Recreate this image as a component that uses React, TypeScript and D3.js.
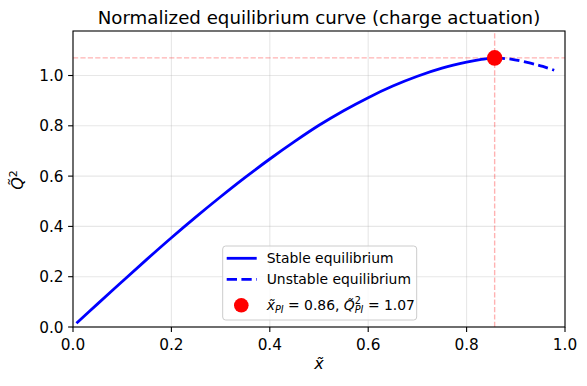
import React from 'react';
import * as d3 from 'd3';

// values
const stableX = [0.007, 0.05, 0.1, 0.15, 0.2, 0.25, 0.3, 0.35, 0.4, 0.45, 0.5, 0.55, 0.6, 0.65, 0.7, 0.75, 0.8, 0.83, 0.857];
const stableY = [0.015, 0.092, 0.181, 0.269, 0.355, 0.438, 0.518, 0.595, 0.668, 0.737, 0.802, 0.86, 0.912, 0.958, 0.997, 1.029, 1.053, 1.064, 1.07];
const unstableX = [0.857, 0.89, 0.93, 0.955, 0.978];
const unstableY = [1.07, 1.065, 1.049, 1.036, 1.021];
const pullIn = { x: 0.857, y: 1.07 };
const xTicks = [0, 0.2, 0.4, 0.6, 0.8, 1.0];
const yTicks = [0, 0.2, 0.4, 0.6, 0.8, 1.0];

const W = 587;
const H = 386;
const margin = { left: 73, right: 22, top: 31, bottom: 59 };
const FONT = 'DejaVu Sans, sans-serif';

export default function App() {
  const x = d3.scaleLinear().domain([0, 1]).range([margin.left, W - margin.right]);
  const y = d3.scaleLinear().domain([0, 1.177]).range([H - margin.bottom, margin.top]);

  const path = (xs: number[], ys: number[]) =>
    d3.line<number>()
      .x((_, i) => x(xs[i]))
      .y((_, i) => y(ys[i]))
      .curve(d3.curveCatmullRom.alpha(0.5))(xs) || '';

  const [x0, x1] = x.range();
  const [y0, y1] = y.range();

  return (
    <svg width={W} height={H} style={{ position: 'absolute', left: 0, top: 0, background: '#fff' }} fontFamily={FONT}>
      <defs>
        <clipPath id="plot">
          <rect x={x0} y={y1} width={x1 - x0} height={y0 - y1} />
        </clipPath>
      </defs>

      {/* grid */}
      {xTicks.map(t => (
        <line key={'gx' + t} x1={x(t)} x2={x(t)} y1={y0} y2={y1} stroke="#b0b0b0" strokeOpacity={0.3} strokeWidth={1.1} />
      ))}
      {yTicks.map(t => (
        <line key={'gy' + t} x1={x0} x2={x1} y1={y(t)} y2={y(t)} stroke="#b0b0b0" strokeOpacity={0.3} strokeWidth={1.1} />
      ))}

      {/* pull-in guides */}
      <g clipPath="url(#plot)">
        <line x1={x0} x2={x1} y1={y(pullIn.y)} y2={y(pullIn.y)} stroke="red" strokeOpacity={0.3} strokeWidth={1.4} strokeDasharray="5.2 2.2" />
        <line x1={x(pullIn.x)} x2={x(pullIn.x)} y1={y0} y2={y1} stroke="red" strokeOpacity={0.3} strokeWidth={1.4} strokeDasharray="5.2 2.2" />

        <path d={path(stableX, stableY)} fill="none" stroke="blue" strokeWidth={2.8} />
        <path d={path(unstableX, unstableY)} fill="none" stroke="blue" strokeWidth={2.8} strokeDasharray="10.3 4.4" />
      </g>
      <circle cx={x(pullIn.x)} cy={y(pullIn.y)} r={7.8} fill="red" />

      {/* spines */}
      <rect x={x0} y={y1} width={x1 - x0} height={y0 - y1} fill="none" stroke="#000" strokeWidth={1.1} />

      {/* x axis */}
      {xTicks.map(t => (
        <g key={'tx' + t}>
          <line x1={x(t)} x2={x(t)} y1={y0} y2={y0 + 4.9} stroke="#000" strokeWidth={1.1} />
          <text x={x(t)} y={y0 + 23} textAnchor="middle" fontSize={15.3} fill="#000">{t.toFixed(1)}</text>
        </g>
      ))}
      {/* y axis */}
      {yTicks.map(t => (
        <g key={'ty' + t}>
          <line x1={x0} x2={x0 - 4.9} y1={y(t)} y2={y(t)} stroke="#000" strokeWidth={1.1} />
          <text x={x0 - 9.5} y={y(t) + 5.5} textAnchor="end" fontSize={15.3} fill="#000">{t.toFixed(1)}</text>
        </g>
      ))}

      {/* labels */}
      <text x={(x0 + x1) / 2} y={24} textAnchor="middle" fontSize={18.2} fill="#000">
        Normalized equilibrium curve (charge actuation)
      </text>
      <text x={(x0 + x1) / 2} y={369} textAnchor="middle" fontSize={16} fontStyle="italic" fill="#000">x&#x303;</text>
      <text transform={`translate(22.5,${(y0 + y1) / 2 + 1}) rotate(-90)`} textAnchor="middle" fontSize={16} fill="#000">
        <tspan fontStyle="italic">Q&#x303;</tspan>
        <tspan fontSize={11} dy={-6}>2</tspan>
      </text>

      {/* legend */}
      <g>
        <rect x={222.7} y={246} width={194} height={74} rx={3} fill="#fff" fillOpacity={0.8} stroke="#cccccc" strokeWidth={1} />
        <line x1={226.7} x2={256.7} y1={258.3} y2={258.3} stroke="blue" strokeWidth={2.8} />
        <text x={266.7} y={263.2} fontSize={13.9} fill="#000">Stable equilibrium</text>
        <line x1={226.7} x2={256.7} y1={279.3} y2={279.3} stroke="blue" strokeWidth={2.8} strokeDasharray="10.3 4.4" />
        <text x={266.7} y={284.2} fontSize={13.9} fill="#000">Unstable equilibrium</text>
        <circle cx={241.3} cy={305.3} r={7.3} fill="red" />
        <text x={266.7} y={310.2} fontSize={13.9} fill="#000">
          <tspan fontStyle="italic">x&#x303;</tspan>
          <tspan fontStyle="italic" fontSize={9.7} dy={3}>PI</tspan>
          <tspan dy={-3}> = 0.86, </tspan>
          <tspan fontStyle="italic">Q&#x303;</tspan>
          <tspan fontSize={9.7} dy={-6}>2</tspan>
          <tspan fontStyle="italic" fontSize={9.7} dx={-6.2} dy={9}>PI</tspan>
          <tspan dy={-3}> = 1.07</tspan>
        </text>
      </g>
    </svg>
  );
}
